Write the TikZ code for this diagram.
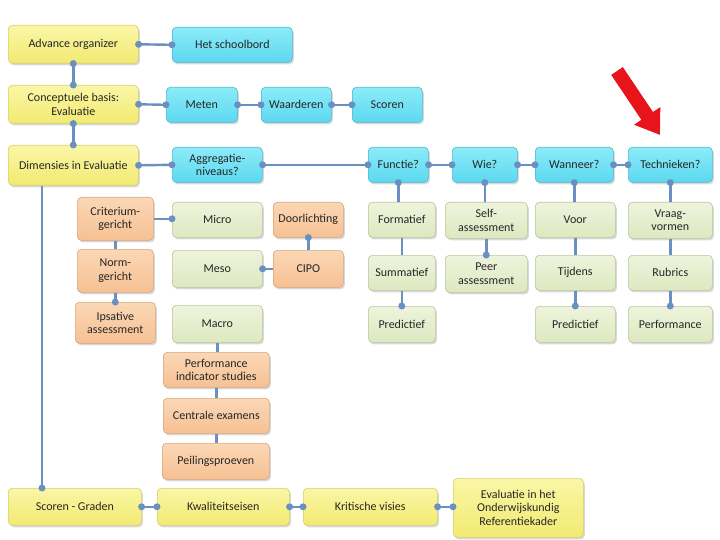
\documentclass[tikz,border=0pt]{standalone}
\usepackage{fontspec}
\setmainfont{Carlito}
\usetikzlibrary{arrows.meta,shadows}
\definecolor{yelA}{HTML}{FAF6A6}
\definecolor{yelB}{HTML}{F2EA72}
\definecolor{yelD}{HTML}{D9CF6A}
\definecolor{cyaA}{HTML}{8CEBF8}
\definecolor{cyaB}{HTML}{5CD9F0}
\definecolor{cyaD}{HTML}{4FB8CF}
\definecolor{pchA}{HTML}{FBD7B5}
\definecolor{pchB}{HTML}{F6C193}
\definecolor{pchD}{HTML}{D9A57A}
\definecolor{sgeA}{HTML}{EEF4DD}
\definecolor{sgeB}{HTML}{DDE8C0}
\definecolor{sgeD}{HTML}{B9C79C}
\definecolor{link}{HTML}{6A90C2}
\definecolor{arrred}{HTML}{E8141C}
\begin{document}
\begin{tikzpicture}[x=1pt,y=-1pt,line width=.6pt,
  box/.style={rounded corners=4pt,inner sep=1pt,align=center,anchor=north west,
    font=\fontsize{12}{13.5}\selectfont,text=black!85,
    drop shadow={shadow xshift=1.5pt,shadow yshift=-2pt,opacity=.3}},
  yel/.style={box,top color=yelA,bottom color=yelB,draw=yelD},
  cya/.style={box,top color=cyaA,bottom color=cyaB,draw=cyaD},
  pch/.style={box,top color=pchA,bottom color=pchB,draw=pchD},
  sge/.style={box,top color=sgeA,bottom color=sgeB,draw=sgeD},
  conn/.style={draw=link,line width=2.4pt},
  dot/.style={circle,fill=link,inner sep=0pt,minimum size=7pt}]
\path[use as bounding box] (0,0) rectangle (720,540);
\node[yel,minimum width=130,minimum height=38] (ao) at (8,25) {Advance organizer};
\node[cya,minimum width=120,minimum height=35] (bord) at (172,27) {Het schoolbord};
\node[yel,minimum width=130,minimum height=38] (cb) at (8,85) {Conceptuele basis:\\Evaluatie};
\node[cya,minimum width=71,minimum height=35] (meten) at (166,87) {Meten};
\node[cya,minimum width=70,minimum height=35] (waard) at (261,87) {Waarderen};
\node[cya,minimum width=70,minimum height=35] (scoren) at (352,87) {Scoren};
\node[yel,minimum width=130,minimum height=40] (dim) at (8,145) {Dimensies in Evaluatie};
\node[cya,minimum width=90,minimum height=35] (aggr) at (172,147) {Aggregatie-\\niveaus?};
\node[cya,minimum width=60,minimum height=35] (functie) at (368,147) {Functie?};
\node[cya,minimum width=65,minimum height=35] (wie) at (452,147) {Wie?};
\node[cya,minimum width=78,minimum height=35] (wanneer) at (535,147) {Wanneer?};
\node[cya,minimum width=84,minimum height=35] (techn) at (628,147) {Technieken?};
\node[pch,minimum width=76,minimum height=43] (crit) at (77,197) {Criterium-\\gericht};
\node[pch,minimum width=76,minimum height=43] (norm) at (77,249) {Norm-\\gericht};
\node[pch,minimum width=80,minimum height=41] (ips) at (75,302) {Ipsative\\assessment};
\node[sge,minimum width=90,minimum height=35] (micro) at (172,202) {Micro};
\node[sge,minimum width=90,minimum height=37] (meso) at (172,250) {Meso};
\node[sge,minimum width=90,minimum height=37] (macro) at (172,305) {Macro};
\node[pch,minimum width=70,minimum height=35] (door) at (273,202) {Doorlichting};
\node[pch,minimum width=70,minimum height=37] (cipo) at (273,250) {CIPO};
\node[pch,minimum width=106,minimum height=35] (perf) at (163,352) {Performance\\indicator studies};
\node[pch,minimum width=106,minimum height=35] (centr) at (163,398) {Centrale examens};
\node[pch,minimum width=107,minimum height=36] (peil) at (162,443) {Peilingsproeven};
\node[sge,minimum width=67,minimum height=35] (form) at (368,202) {Formatief};
\node[sge,minimum width=67,minimum height=35] (summ) at (368,255) {Summatief};
\node[sge,minimum width=67,minimum height=36] (predA) at (368,306) {Predictief};
\node[sge,minimum width=82,minimum height=36] (self) at (445,202) {Self-\\assessment};
\node[sge,minimum width=82,minimum height=37] (peer) at (445,255) {Peer\\assessment};
\node[sge,minimum width=80,minimum height=35] (voor) at (535,202) {Voor};
\node[sge,minimum width=80,minimum height=35] (tijd) at (535,255) {Tijdens};
\node[sge,minimum width=80,minimum height=36] (predB) at (535,306) {Predictief};
\node[sge,minimum width=84,minimum height=36] (vraag) at (628,202) {Vraag-\\vormen};
\node[sge,minimum width=84,minimum height=35] (rubr) at (628,255) {Rubrics};
\node[sge,minimum width=84,minimum height=36] (perfm) at (628,306) {Performance};
\node[yel,minimum width=133,minimum height=37] (sg) at (8,488) {Scoren - Graden};
\node[yel,minimum width=132,minimum height=37] (kwal) at (157,488) {Kwaliteitseisen};
\node[yel,minimum width=134,minimum height=37] (krit) at (303,488) {Kritische visies};
\node[yel,minimum width=130,minimum height=59] (evrk) at (453,478) {Evaluatie in het\\Onderwijskundig\\Referentiekader};
\draw[conn] (ao.east) node[dot]{} -- (bord.west) node[dot]{};
\draw[conn] (ao.south) node[dot]{} -- (cb.north) node[dot]{};
\draw[conn] (cb.south) node[dot]{} -- (dim.north) node[dot]{};
\draw[conn] (cb.east) node[dot]{} -- (meten.west) node[dot]{};
\draw[conn] (meten.east) node[dot]{} -- (waard.west) node[dot]{};
\draw[conn] (waard.east) node[dot]{} -- (scoren.west) node[dot]{};
\draw[conn] (dim.east) node[dot]{} -- (aggr.west) node[dot]{};
\draw[conn] (aggr.east) node[dot]{} -- (functie.west) node[dot]{};
\draw[conn] (functie.east) node[dot]{} -- (wie.west) node[dot]{};
\draw[conn] (wie.east) node[dot]{} -- (wanneer.west) node[dot]{};
\draw[conn] (wanneer.east) node[dot]{} -- (techn.west) node[dot]{};
\draw[conn] ([xshift=34]dim.south west) -- ([xshift=34]sg.north west) node[dot]{};
\draw[conn] (crit.east) -- (crit.east -| micro.west) node[dot]{};
\draw[conn] (crit.south) -- (norm.north);
\draw[conn] (norm.south) -- (norm.south |- ips.north) node[dot]{};
\draw[conn] (cipo.west) -- (meso.east) node[dot]{};
\draw[conn] (cipo.north) -- (door.south) node[dot]{};
\draw[conn] (macro.south) -- (macro.south |- perf.north);
\draw[conn] (perf.south) -- (centr.north);
\draw[conn] (centr.south) -- (centr.south |- peil.north);
\draw[conn] (functie.south) node[dot]{} -- (functie.south |- form.north);
\draw[conn] (form.south) -- (summ.north);
\draw[conn] (summ.south) -- (predA.north) node[dot]{};
\draw[conn] (wie.south) node[dot]{} -- (wie.south |- self.north);
\draw[conn] (self.south) -- (peer.north) node[dot]{};
\draw[conn] (wanneer.south) node[dot]{} -- (wanneer.south |- voor.north);
\draw[conn] (voor.south) -- (tijd.north);
\draw[conn] (tijd.south) -- (predB.north) node[dot]{};
\draw[conn] (techn.south) node[dot]{} -- (techn.south |- vraag.north);
\draw[conn] (vraag.south) -- (rubr.north);
\draw[conn] (rubr.south) -- (perfm.north) node[dot]{};
\draw[conn] (sg.east) node[dot]{} -- (kwal.west) node[dot]{};
\draw[conn] (kwal.east) node[dot]{} -- (krit.west) node[dot]{};
\draw[conn] (krit.east) node[dot]{} -- (evrk.west |- krit.east) node[dot]{};
\coordinate (tail) at (617,71);
\coordinate (tip) at (660,135);
\draw[arrred,line width=14pt,-{Triangle[width=30pt,length=23pt]}] (tail) -- (tip);
\end{tikzpicture}
\end{document}
